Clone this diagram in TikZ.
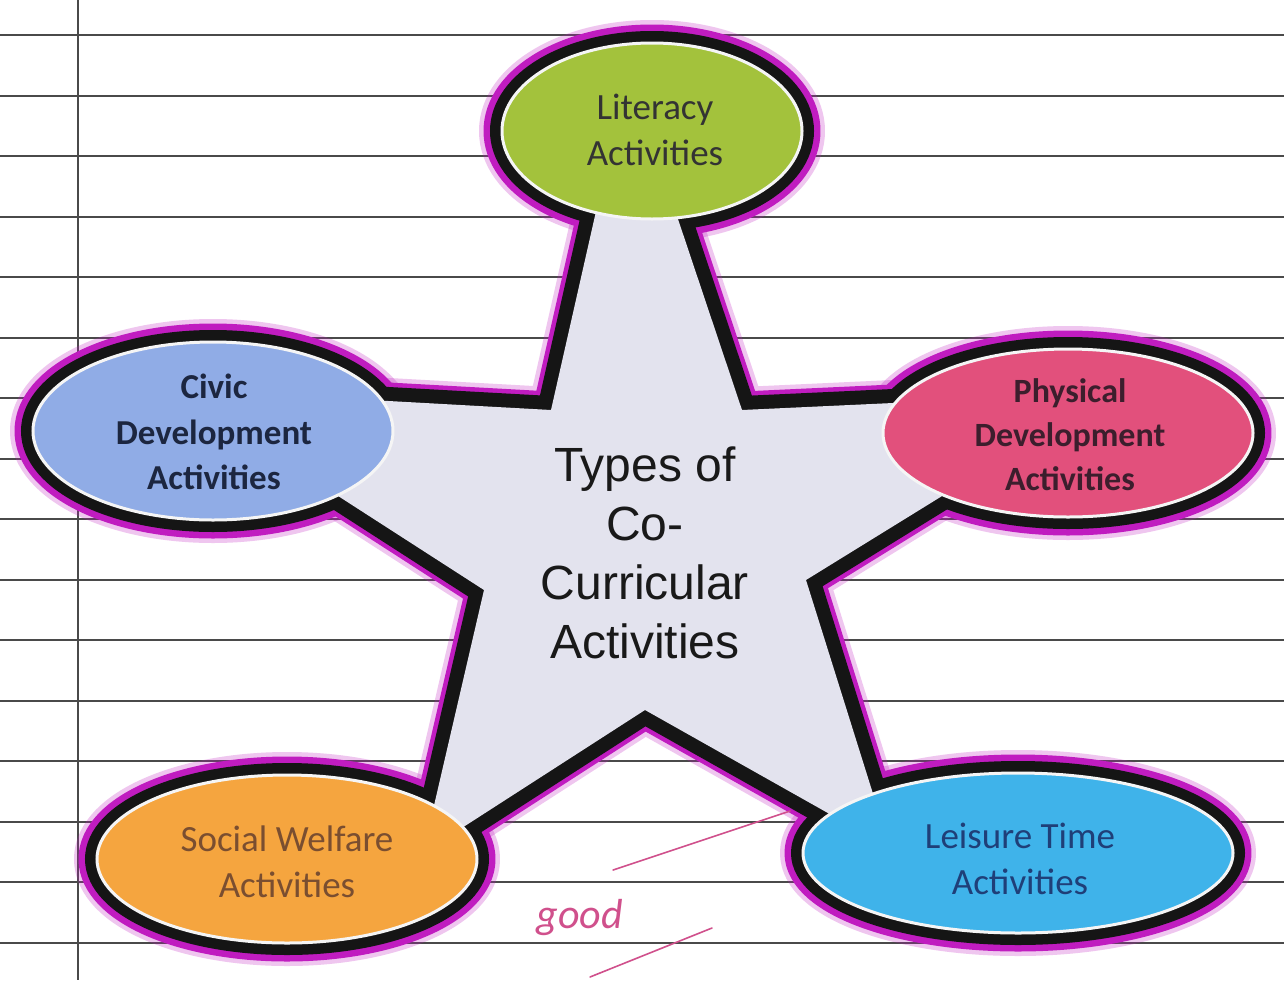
\documentclass[tikz,border=0pt]{standalone}
\usepackage{fontspec}
\setmainfont{Carlito}
\newfontfamily\starfont{Liberation Sans}
\usetikzlibrary{shapes.geometric}
\definecolor{ink}{HTML}{151515}
\definecolor{pen}{HTML}{C01CC0}
\definecolor{rulecol}{HTML}{4A4A4A}
\definecolor{starfill}{HTML}{E3E3EE}
\definecolor{litfill}{HTML}{A3C23C}
\definecolor{civfill}{HTML}{90ACE6}
\definecolor{phyfill}{HTML}{E2507C}
\definecolor{socfill}{HTML}{F5A53F}
\definecolor{leifill}{HTML}{3FB3EA}
\definecolor{signpink}{HTML}{D0508C}
\begin{document}
\begin{tikzpicture}[x=1pt,y=-1pt,
  rulestyle/.style={draw=rulecol, line width=2pt},
  penhaze/.style={draw=pen, line width=46pt, line join=round, opacity=0.25},
  penline/.style={draw=pen, line width=37pt, line join=round},
  inkring/.style={draw=ink, line width=24pt},
  inkstar/.style={draw=ink, line width=28pt, line join=round},
  bubble/.style={ellipse, draw=white!92!gray, line width=3pt, inner sep=0pt, outer sep=0pt},
  bubbletext/.style={align=center, inner sep=0pt, font=\fontsize{37}{46}\selectfont},
  signline/.style={draw=signpink, line width=1.6pt, line cap=round}]
\useasboundingbox (0,0) rectangle (1284,980);
\fill[white] (0,0) rectangle (1284,980);
% ruled paper
\foreach \k in {0,...,15} {
  \draw[rulestyle] (0,{35+60.5*\k}) -- (1284,{35+60.5*\k});
}
\draw[draw=rulecol, line width=2.5pt] (78,0) -- (78,980);
% centres
\coordinate (cLit) at (652,131);
\coordinate (cCiv) at (213,431);
\coordinate (cPhy) at (1068,433);
\coordinate (cSoc) at (287,859);
\coordinate (cLei) at (1018,853);
% star vertices
\coordinate (tT) at (628,70);
\coordinate (iUR) at (742,410);
\coordinate (tR) at (1109,393);
\coordinate (iLR) at (806,580);
\coordinate (tBR) at (890,848);
\coordinate (iB) at (645,710);
\coordinate (tBL) at (423,853);
\coordinate (iLL) at (484,590);
\coordinate (tL) at (172,389);
\coordinate (iUL) at (551,410);
% magenta pen outline
\foreach \c/\rx/\ry in {cLit/150/88, cCiv/180/89, cPhy/185/84, cSoc/190/84, cLei/215/80} {
  \draw[penhaze] (\c) ellipse [x radius=\rx pt, y radius=\ry pt];
}
\draw[penhaze] (tT) -- (iUR) -- (tR) -- (iLR) -- (tBR) -- (iB) -- (tBL) -- (iLL) -- (tL) -- (iUL) -- cycle;
\foreach \c/\rx/\ry in {cLit/150/88, cCiv/180/89, cPhy/185/84, cSoc/190/84, cLei/215/80} {
  \draw[penline] (\c) ellipse [x radius=\rx pt, y radius=\ry pt];
}
\draw[penline] (tT) -- (iUR) -- (tR) -- (iLR) -- (tBR) -- (iB) -- (tBL) -- (iLL) -- (tL) -- (iUL) -- cycle;
% black outline
\foreach \c/\rx/\ry in {cLit/150/88, cCiv/180/89, cPhy/185/84, cSoc/190/84, cLei/215/80} {
  \draw[inkring] (\c) ellipse [x radius=\rx pt, y radius=\ry pt];
}
\draw[inkstar] (tT) -- (iUR) -- (tR) -- (iLR) -- (tBR) -- (iB) -- (tBL) -- (iLL) -- (tL) -- (iUL) -- cycle;
% star body
\fill[starfill] (tT) -- (iUR) -- (tR) -- (iLR) -- (tBR) -- (iB) -- (tBL) -- (iLL) -- (tL) -- (iUL) -- cycle;
% bubbles
\node[bubble, fill=litfill, minimum width=300pt, minimum height=176pt] (lit) at (cLit) {};
\node[bubble, fill=civfill, minimum width=360pt, minimum height=178pt] (civ) at (cCiv) {};
\node[bubble, fill=phyfill, minimum width=370pt, minimum height=168pt] (phy) at (cPhy) {};
\node[bubble, fill=socfill, minimum width=380pt, minimum height=168pt] (soc) at (cSoc) {};
\node[bubble, fill=leifill, minimum width=430pt, minimum height=160pt] (lei) at (cLei) {};
% texts
\node[bubbletext, text=black!80] (litT) at (655,130) {Literacy\\Activities};
\node[bubbletext, text={rgb,255:red,28;green,38;blue,64}, font=\bfseries\fontsize{35}{45.5}\selectfont] (civT) at (214,432) {Civic\\Development\\Activities};
\node[bubbletext, text={rgb,255:red,60;green,30;blue,45}, font=\bfseries\fontsize{34}{44}\selectfont] (phyT) at (1070,435) {Physical\\Development\\Activities};
\node[bubbletext, text={rgb,255:red,122;green,78;blue,48}] (socT) at (287,862) {Social Welfare\\Activities};
\node[bubbletext, text={rgb,255:red,31;green,63;blue,120}] (leiT) at (1020,859) {Leisure Time\\Activities};
\node[align=center, inner sep=0pt, text=black!90, font=\starfont\fontsize{48}{59}\selectfont] (star) at (645,553) {Types of\\Co-\\Curricular\\Activities};
% teacher's mark
\coordinate (s1) at (613,870);
\coordinate (s2) at (790,811);
\coordinate (s3) at (590,977);
\coordinate (s4) at (712,928);
\draw[signline] (s1) -- (s2);
\draw[signline] (s3) -- (s4);
\node[inner sep=0pt, text=signpink, font=\itshape\fontsize{42}{42}\selectfont] (sign) at (580,918) {good};
\end{tikzpicture}
\end{document}
